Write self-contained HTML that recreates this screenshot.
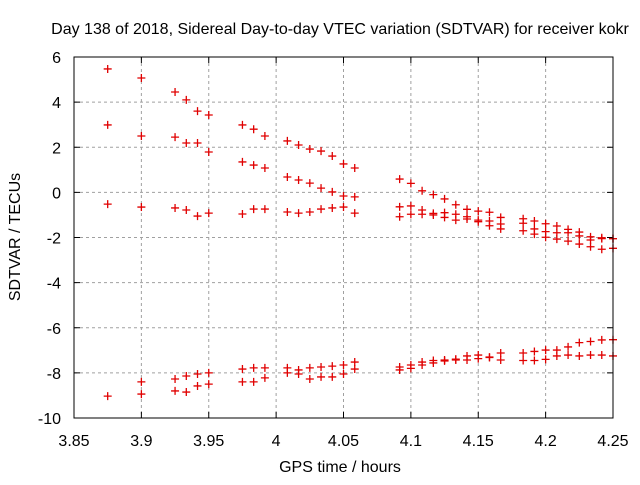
<!DOCTYPE html>
<html><head><meta charset="utf-8"><style>
body{margin:0;background:#fff;}
svg text{font-family:"Liberation Sans",sans-serif;font-size:16px;fill:#000;}
</style></head><body>
<svg id="chart" width="640" height="480">
<text x="340" y="34" text-anchor="middle">Day 138 of 2018, Sidereal Day-to-day VTEC variation (SDTVAR) for receiver kokr</text>
<text x="340" y="472" text-anchor="middle">GPS time / hours</text>
<text transform="translate(20,237) rotate(-90)" text-anchor="middle">SDTVAR / TECUs</text>
<g id="grid"></g><g id="ticks"></g><g id="marks"></g>
<rect x="74" y="57" width="539" height="361" fill="none" stroke="#000" stroke-width="1"/>
</svg>
<script>
const xTicks=[3.85,3.9,3.95,4,4.05,4.1,4.15,4.2,4.25];
const xTickLabels=["3.85","3.9","3.95","4","4.05","4.1","4.15","4.2","4.25"];
const yTicks=[-10,-8,-6,-4,-2,0,2,4,6];
const yTickLabels=["-10","-8","-6","-4","-2","0","2","4","6"];
const sampleIndex=[0,3,6,7,8,9,12,13,14,16,17,18,19,20,21,22,26,27,28,29,30,31,32,33,34,35,37,38,39,40,41,42,43,44,45];
const series1=[5.47,5.07,4.45,4.1,3.6,3.43,2.99,2.8,2.5,2.28,2.1,1.92,1.83,1.61,1.26,1.08,0.59,0.40,0.07,-0.10,-0.29,-0.55,-0.75,-0.83,-0.88,-1.11,-1.17,-1.27,-1.39,-1.49,-1.64,-1.76,-1.97,-2.01,-2.05];
const series2=[2.99,2.5,2.45,2.19,2.19,1.79,1.35,1.21,1.08,0.68,0.55,0.41,0.19,0.02,-0.16,-0.2,-0.64,-0.60,-0.78,-0.93,-0.90,-0.97,-1.08,-1.23,-1.27,-1.40,-1.37,-1.62,-1.74,-1.79,-1.79,-1.93,-2.11,-2.05,-2.05];
const series3=[-0.52,-0.65,-0.69,-0.78,-1.05,-0.92,-0.96,-0.74,-0.74,-0.87,-0.92,-0.87,-0.74,-0.69,-0.65,-0.92,-1.08,-0.97,-0.97,-1.00,-1.11,-1.23,-1.18,-1.30,-1.48,-1.62,-1.70,-1.85,-1.99,-2.07,-2.16,-2.29,-2.41,-2.52,-2.48];
const series4=[null,-8.4,-8.27,-8.14,-8.05,-8.0,-7.83,-7.78,-7.78,-7.78,-7.87,-7.78,-7.74,-7.7,-7.65,-7.52,-7.74,-7.65,-7.52,-7.45,-7.43,-7.39,-7.25,-7.21,-7.3,-7.12,-7.12,-7.05,-6.99,-6.99,-6.85,-6.66,-6.61,-6.54,-6.53];
const series5=[-9.03,-8.94,-8.8,-8.85,-8.58,-8.5,-8.4,-8.4,-8.22,-8.0,-8.05,-8.27,-8.18,-8.18,-8.05,-7.83,-7.87,-7.8,-7.65,-7.56,-7.47,-7.43,-7.43,-7.37,-7.32,-7.43,-7.45,-7.45,-7.40,-7.25,-7.21,-7.25,-7.21,-7.21,-7.25];
const NS='http://www.w3.org/2000/svg';
const X0=74,X1=613,Y0=418,Y1=57;
function xs(t){return X0+(t-3.85)/(4.25-3.85)*(X1-X0);}
function ys(v){return Y0-(v+10)/16*(Y0-Y1);}
function mk(tag,attrs,parent){const e=document.createElementNS(NS,tag);for(const k in attrs)e.setAttribute(k,attrs[k]);parent.appendChild(e);return e;}
const grid=document.getElementById('grid'),ticks=document.getElementById('ticks'),marks=document.getElementById('marks');
xTicks.forEach((t,i)=>{const x=xs(t);
 if(i>0&&i<xTicks.length-1){const g=mk('line',{x1:x,x2:x,y1:Y1,y2:Y0,stroke:'#a0a0a0','stroke-dasharray':'3,3'},grid);
 
 }
 mk('line',{x1:x,x2:x,y1:Y0,y2:Y0-6,stroke:'#000'},ticks);
 mk('line',{x1:x,x2:x,y1:Y1,y2:Y1+6,stroke:'#000'},ticks);
 const l=mk('text',{x:x,y:446,'text-anchor':'middle'},ticks);l.textContent=xTickLabels[i];
 
 });
yTicks.forEach((v,i)=>{const y=ys(v);
 if(i>0&&i<yTicks.length-1){const g=mk('line',{x1:X0,x2:X1,y1:y,y2:y,stroke:'#a0a0a0','stroke-dasharray':'3,3'},grid);
 
 }
 mk('line',{x1:X0,x2:X0+6,y1:y,y2:y,stroke:'#000'},ticks);
 mk('line',{x1:X1,x2:X1-6,y1:y,y2:y,stroke:'#000'},ticks);
 const l=mk('text',{x:61,y:y+6,'text-anchor':'end'},ticks);l.textContent=yTickLabels[i];
 
 });
[series1,series2,series3,series4,series5].forEach((s,si)=>{
 s.forEach((v,i)=>{if(v===null)return;
  const x=xs(3.875+sampleIndex[i]/120),y=ys(v);
  const p=mk('path',{d:`M${x-4},${y}H${x+4}M${x},${y-4}V${y+4}`,stroke:'#e00000','stroke-width':1.3,fill:'none'},marks);
  
  });});
</script>
</body></html>
